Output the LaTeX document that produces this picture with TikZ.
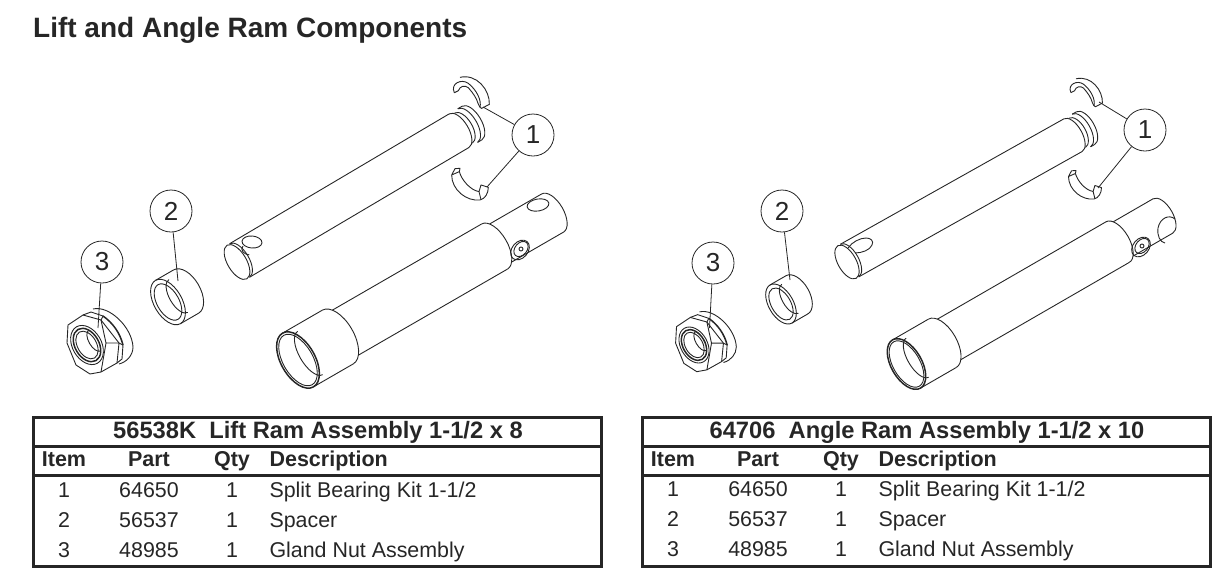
\documentclass[tikz,border=0pt]{standalone}
\usepackage{fontspec}
\setmainfont{Liberation Sans}
\definecolor{inkgray}{HTML}{262626}
\tikzset{x=1pt, y=1pt,
  partline/.style={draw=inkgray, line width=0.9pt, line join=round},
  heavyline/.style={draw=inkgray, line width=1.5pt},
  leaderline/.style={draw=inkgray, line width=0.8pt},
  rule/.style={draw=inkgray, line width=3pt},
  balloon/.style={circle, draw=inkgray, line width=0.8pt, minimum size=42pt, inner sep=0pt, text=inkgray, font=\fontsize{26}{28}\selectfont},
  titletext/.style={anchor=base, text=inkgray, font=\bfseries\fontsize{23.7}{26}\selectfont},
  headtext/.style={anchor=base, text=inkgray, font=\bfseries\fontsize{21.5}{24}\selectfont},
  celltext/.style={anchor=base, text=inkgray, font=\fontsize{21.4}{24}\selectfont},
}
% half ellipse seen on a cylinder: u, radius, depth
\newcommand{\hoop}[3]{\draw[partline] (#1,#2) arc[start angle=90, end angle=-90, x radius=#3, y radius=#2];}
% rod: x, y, angle, scale, length
\newcommand{\ramrod}[5]{
\begin{scope}[shift={(#1,-#2)},rotate=#3,scale=#4]
\draw[partline] (0,0) ellipse[x radius=9.5, y radius=19.5];
\hoop{3}{19.5}{9.5}
\draw[partline] (3,19.5) -- (#5,19.5) (3,-19.5) -- (#5,-19.5);
\hoop{#5}{19.5}{9.5}
\hoop{#5+5}{17.5}{9}
\hoop{#5+10}{19.5}{9.5}
\hoop{#5+15}{19.5}{9.5}
\draw[partline] (#5+10,19.5) -- (#5+15,19.5) (#5+10,-19.5) -- (#5+15,-19.5);
\end{scope}}
% barrel: x, y, scale, tube end, rod end
\newcommand{\ramtube}[5]{
\begin{scope}[shift={(#1,-#2)},rotate=30,scale=#3]
\draw[heavyline] (0,0) ellipse[x radius=17, y radius=31];
\draw[partline] (0,0) ellipse[x radius=15, y radius=28.5];
\draw[partline] (14,25) arc[start angle=90, end angle=270, x radius=11, y radius=25];
\draw[partline] (0,31) -- (46,31) (0,-31) -- (46,-31);
\hoop{46}{31}{16}
\draw[partline] (54.7,26) -- (#4,26) (54.7,-26) -- (#4,-26);
\hoop{#4}{26}{13}
\draw[partline] (#4+7,22) -- (#5,22) (#4+7,-22) -- (#5,-22);
\hoop{#5}{22}{11}
\end{scope}}
\newcommand{\ramboss}[2]{
\draw[partline] (#1,-#2) ellipse[x radius=11, y radius=8, rotate=50];
\draw[partline] (#1+1,-#2+1) ellipse[x radius=8.5, y radius=6, rotate=50];
\draw[partline] (#1+1,-#2+1) circle[radius=2];}
% spacer: x, y, scale
\newcommand{\spacerring}[3]{
\begin{scope}[shift={(#1,-#2)},rotate=30,scale=#3]
\draw[partline] (0,0) ellipse[x radius=14, y radius=25];
\draw[partline] (0,0) ellipse[x radius=11, y radius=20];
\draw[partline] (12,19) arc[start angle=90, end angle=270, x radius=9, y radius=19];
\draw[partline] (0,25) -- (21,25) (0,-25) -- (21,-25);
\hoop{21}{25}{14}
\end{scope}}
% gland nut: x, y, scale
\newcommand{\glandnut}[3]{
\begin{scope}[shift={(#1,-#2)},scale=#3]
\draw[partline] (-19,20) -- (-4,30) -- (14,25) -- (32,2) -- (30,-18) -- (14,-27) -- (3,-29) -- (-11,-20) -- (-20,2) -- cycle;
\draw[partline] (14,25) -- (19,2) -- (32,2) (19,2) -- (14,-27);
\draw[partline] (-4,30) -- (4,33) -- (16,29) -- (14,25);
\draw[partline] (6,36) .. controls (22,40) and (45,18) .. (46,-2) .. controls (46,-10) and (40,-17) .. (32,-19);
\draw[heavyline] (16,29) .. controls (26,22) and (33,12) .. (36,0);
\draw[partline] (32,2) -- (36,0) -- (35,-14) -- (30,-18);
\begin{scope}[rotate=30]
\draw[partline] (0,0) ellipse[x radius=14.5, y radius=21];
\draw[heavyline] (0,0) ellipse[x radius=12, y radius=18];
\draw[partline] (0,0) ellipse[x radius=9.5, y radius=15];
\draw[partline] (9,12) arc[start angle=90, end angle=270, x radius=6, y radius=12];
\end{scope}
\end{scope}}
% split bearing halves, drawn in thirds of a point
\newcommand{\bearingtop}[3]{
\begin{scope}[shift={(#1,-#2)},scale=#3/3,yscale=-1]
\draw[partline] (-47,3) .. controls (-60,-25) and (-25,-40) .. (-5,-25) .. controls (20,-5) and (35,25) .. (30,47);
\draw[partline] (-47,3) -- (-35,-3) .. controls (-30,-18) and (-15,-20) .. (-5,-12) .. controls (10,5) and (20,20) .. (24,35);
\draw[partline] (-30,-43) .. controls (20,-55) and (60,-5) .. (58,38) -- (35,50) -- (30,47);
\draw[partline] (24,35) -- (30,47);
\end{scope}}
\newcommand{\bearingbot}[3]{
\begin{scope}[shift={(#1,-#2)},scale=#3/3,yscale=-1]
\draw[partline] (-55,-25) .. controls (-55,20) and (-10,55) .. (30,50) .. controls (45,47) and (55,30) .. (55,12) -- (33,5) -- (27,25);
\draw[partline] (-55,-25) -- (-45,-44) -- (-30,-45) -- (-32,-35) -- cycle;
\draw[partline] (-32,-35) .. controls (-25,-10) and (0,20) .. (27,25) -- (33,49);
\end{scope}}
% table: left edge, title, baselines of the rows
\newcommand{\parttable}[6]{
\node[titletext] (title#2) at (#1+285,-438.5) {#3};
\foreach \name/\xoff/\txt in {a/31/Item,b/116/Part,c/199/Qty}
  \node[headtext] (head#2\name) at (#1+\xoff,-466) {\txt};
\node[headtext, anchor=base west] (head#2d) at (#1+233,-466) {Description};
\foreach \row/\rowy/\part/\desc in {1/#4/64650/{Split Bearing Kit 1-1/2},2/#5/56537/Spacer,3/#6/48985/Gland Nut Assembly}{
  \node[celltext] (item#2\row) at (#1+31,-\rowy) {\row};
  \node[celltext] (part#2\row) at (#1+116,-\rowy) {\part};
  \node[celltext] (qty#2\row) at (#1+199,-\rowy) {1};
  \node[celltext, anchor=base west] (desc#2\row) at (#1+233,-\rowy) {\desc};
}
\draw[rule] (#1,-417) rectangle (#1+568,-566);
\draw[rule] (#1,-446) -- (#1+568,-446);
\draw[rule] (#1,-475.5) -- (#1+568,-475.5);
}

\begin{document}
\begin{tikzpicture}
\useasboundingbox (0,0) rectangle (1231,-571);
\node[anchor=base west, inner sep=0pt, text=inkgray, font=\bfseries\fontsize{28}{30}\selectfont] (heading) at (33,-37) {Lift and Angle Ram Components};

% left assembly
\glandnut{87}{345}{1}
\spacerring{168}{302}{1}
\ramrod{237}{262}{30.6}{1}{258}
\ramtube{298}{360}{1}{227}{294}
\ramboss{520}{250}
\draw[partline] (252,-242) ellipse[x radius=10, y radius=6, rotate=-5];
\draw[partline] (243,-246) arc[start angle=150, end angle=260, x radius=9, y radius=6];
\draw[partline] (538,-205) ellipse[x radius=11, y radius=6, rotate=10];
\bearingtop{470}{91.7}{1}
\bearingbot{470}{183.3}{1}
\node[balloon] (onea) at (533,-135) {1};
\node[balloon] (twoa) at (171,-211) {2};
\node[balloon] (threea) at (102,-262) {3};
\coordinate (onetopa) at (483,-107);
\coordinate (onebota) at (487,-187);
\coordinate (twoenda) at (178,-281);
\coordinate (threeenda) at (98,-328);
\draw[leaderline] (onea) -- (onetopa);
\draw[leaderline] (onea) -- (onebota);
\draw[leaderline] (twoa) -- (twoenda);
\draw[leaderline] (threea) -- (threeenda);

% right assembly
\glandnut{694}{345}{0.92}
\spacerring{781}{304}{0.88}
\ramrod{847}{262}{29.3}{0.96}{270}
\ramtube{906.5}{364}{0.9}{271}{329}
\ramboss{1141}{247}
\draw[partline] (848,-248) .. controls (852,-242) and (860,-238) .. (866,-238) .. controls (871,-238) and (874,-241) .. (872,-245) .. controls (870,-250) and (862,-253) .. (855,-253);
\draw[partline] (1175,-219) .. controls (1169,-214) and (1160,-218) .. (1158,-228) .. controls (1157,-236) and (1160,-242) .. (1165,-243);
\bearingtop{1085}{91.7}{0.9}
\bearingbot{1085}{184}{0.9}
\node[balloon] (oneb) at (1145,-130) {1};
\node[balloon] (twob) at (782,-211) {2};
\node[balloon] (threeb) at (713,-263) {3};
\coordinate (onetopb) at (1099,-102);
\coordinate (onebotb) at (1098,-188);
\coordinate (twoendb) at (790,-280);
\coordinate (threeendb) at (709.5,-328);
\draw[leaderline] (oneb) -- (onetopb);
\draw[leaderline] (oneb) -- (onebotb);
\draw[leaderline] (twob) -- (twoendb);
\draw[leaderline] (threeb) -- (threeendb);

% parts lists
\parttable{33}{a}{56538K\ \ Lift Ram Assembly 1-1/2 x 8}{497}{527}{557}
\parttable{642}{b}{64706\ \ Angle Ram Assembly 1-1/2 x 10}{496}{526}{556}
\end{tikzpicture}
\end{document}
